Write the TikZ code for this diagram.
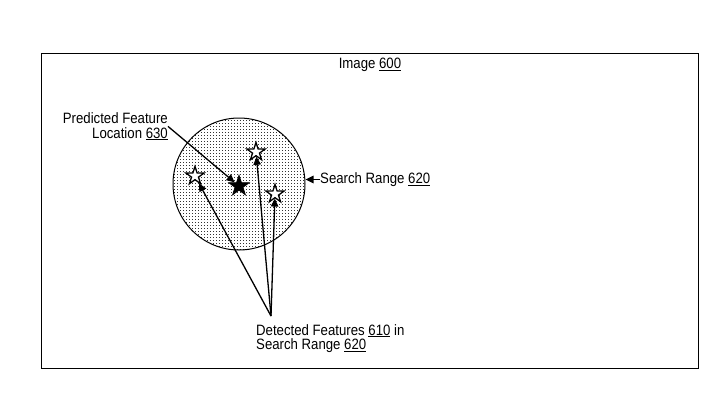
\documentclass[tikz,border=0pt]{standalone}
\usepackage{fontspec}
\setmainfont[FakeStretch=0.88]{Liberation Sans}
\usetikzlibrary{shapes.geometric,patterns,arrows.meta}
\pgfdeclarepatternformonly{stipple}{\pgfpointorigin}{\pgfpoint{1pt}{1pt}}{\pgfpoint{3pt}{3pt}}{%
  \pgfpathrectangle{\pgfpointorigin}{\pgfpoint{1pt}{1pt}}\pgfusepath{fill}}
\begin{document}
\begin{tikzpicture}[x=1pt,y=-1pt,
  lbl/.style={font=\fontsize{15}{14.5}\selectfont, inner sep=0pt},
  ostar/.style={star, star points=5, star point ratio=2.6, draw=black, fill=white, line width=1.3pt, minimum size=19pt, inner sep=0pt},
  fstar/.style={star, star points=5, star point ratio=2.6, draw=black, fill=black, line width=0.6pt, minimum size=22pt, inner sep=0pt},
  arr/.style={-{Triangle[length=8pt,width=7.5pt]}, line width=1.3pt}]
\useasboundingbox (0,0) rectangle (724,400);
\draw[line width=1pt] (41,53) rectangle (698,368);
\node[circle, draw, line width=1pt, minimum size=132pt, inner sep=0pt, pattern=stipple, pattern color=black!80] (circ) at (239,184) {};
\node[lbl, anchor=base] (title) at (370,68.5) {Image \underline{600}};
\node[lbl, align=right, anchor=base east] (pred) at (168,138) {Predicted Feature\\Location \underline{630}};
\node[lbl, anchor=west] (sr) at (320,179.5) {Search Range \underline{620}};
\node[lbl, align=left, anchor=base west] (det) at (256,349.5) {Detected Features \underline{610} in\\Search Range \underline{620}};
\node[ostar] (s1) at (195,176) {};
\node[ostar] (s2) at (256,152) {};
\node[ostar] (s3) at (275,194) {};
\node[fstar] (fs) at (239,186) {};
\coordinate (apex) at (271,316);
\draw[arr] (pred.east) -- (fs);
\draw[arr] (sr.west) -- (sr.west -| circ.east);
\draw[arr] (apex) -- (s1);
\draw[arr] (apex) -- (s2);
\draw[arr] (apex) -- (s3);
\end{tikzpicture}
\end{document}
